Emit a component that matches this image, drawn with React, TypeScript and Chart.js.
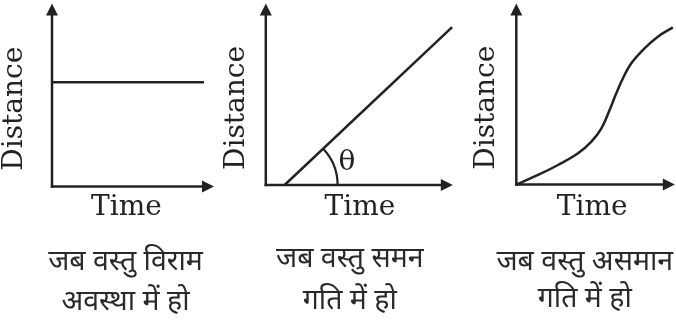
import React, { useEffect, useRef } from "react";
import { Chart, registerables } from "chart.js";

Chart.register(...registerables);

// ---- Text ----
const xAxisTitle = "Time";
const yAxisTitle = "Distance";
const angleLabel = "θ";
const restCaption = ["जब वस्तु विराम", "अवस्था में हो"];
const uniformCaption = ["जब वस्तु समन", "गति में हो"];
const nonUniformCaption = ["जब वस्तु असमान", "गति में हो"];

// ---- Data (arbitrary units) ----
const restTime = [0, 10.2];
const restDistance = [6.7, 6.7];

const uniformTime = [1.0, 9.9];
const uniformDistance = [0, 10.25];

const nonUniformTime = [0, 1.43, 2.75, 4.07, 4.95, 5.61, 6.15, 6.59, 7.03, 7.58, 8.45, 9.33, 10.32];
const nonUniformDistance = [0, 0.62, 1.27, 2.03, 2.79, 3.66, 4.85, 5.94, 6.92, 7.9, 8.87, 9.63, 10.24];

const INK = "#222222";
const SERIF = "'DejaVu Serif', serif";
const CAPTION_FONT = "'Noto Sans', 'Noto Sans Devanagari', sans-serif";

type PanelCfg = {
  left: number;
  width: number;
  xs: number[];
  ys: number[];
  caption: string[];
  captionX: number;
  captionY: number[];
  yTitleGap: number;
  xTitleGap: number;
  padRight: number;
  padTop: number;
  padBottom: number;
  tipX: number;
  tipY: number;
  smooth: boolean;
  showAngle: boolean;
};

const panels: PanelCfg[] = [
  {
    left: -2.5, width: 218, xs: restTime, ys: restDistance, caption: restCaption,
    captionX: 125, captionY: [262, 302], yTitleGap: 20.4, xTitleGap: 4.2,
    padRight: 15, padTop: 31, padBottom: 97.7, tipX: 213.5, tipY: 3.5, smooth: false, showAngle: false,
  },
  {
    left: 220.2, width: 239.8, xs: uniformTime, ys: uniformDistance, caption: uniformCaption,
    captionX: 350, captionY: [259, 301], yTitleGap: 12.2, xTitleGap: 5.7,
    padRight: 6, padTop: 31, padBottom: 97.7, tipX: 453, tipY: 3.5, smooth: false, showAngle: true,
  },
  {
    left: 470.2, width: 206.3, xs: nonUniformTime, ys: nonUniformDistance, caption: nonUniformCaption,
    captionX: 585, captionY: [262, 299], yTitleGap: 12.7, xTitleGap: 6.2,
    padRight: 8, padTop: 31, padBottom: 97.7, tipX: 675, tipY: 3.5, smooth: true, showAngle: false,
  },
];

const decorPlugin = {
  id: "decor",
  afterDatasetsDraw(chart: any, _args: any, opts: any) {
    const { ctx, chartArea, scales } = chart;
    const left = opts.pageLeft as number;
    const ax = chartArea.left;
    const ay = chartArea.bottom;
    const tipX = opts.tipX - left;
    const tipY = opts.tipY;
    const head = 12;
    const half = 6;
    ctx.save();
    ctx.strokeStyle = INK;
    ctx.fillStyle = INK;
    ctx.lineWidth = 2.5;
    ctx.lineCap = "butt";
    // y axis
    ctx.beginPath();
    ctx.moveTo(ax, ay + 1.25);
    ctx.lineTo(ax, tipY + head - 1);
    ctx.stroke();
    ctx.beginPath();
    ctx.moveTo(ax, tipY);
    ctx.lineTo(ax - half, tipY + head);
    ctx.lineTo(ax + half, tipY + head);
    ctx.closePath();
    ctx.fill();
    // x axis
    ctx.beginPath();
    ctx.moveTo(ax - 1.25, ay);
    ctx.lineTo(tipX - head + 1, ay);
    ctx.stroke();
    ctx.beginPath();
    ctx.moveTo(tipX, ay);
    ctx.lineTo(tipX - head, ay - half);
    ctx.lineTo(tipX - head, ay + half);
    ctx.closePath();
    ctx.fill();

    // angle arc
    if (opts.showAngle) {
      const ds = chart.data.datasets[0].data;
      const x0 = scales.x.getPixelForValue(ds[0].x);
      const y0 = scales.y.getPixelForValue(ds[0].y);
      const x1 = scales.x.getPixelForValue(ds[1].x);
      const y1 = scales.y.getPixelForValue(ds[1].y);
      const ang = Math.atan2(y1 - y0, x1 - x0);
      const r = 53;
      ctx.lineWidth = 2.2;
      ctx.beginPath();
      ctx.arc(x0, y0, r, ang, 0);
      ctx.stroke();
      const mid = ang / 2;
      ctx.font = `28px ${SERIF}`;
      ctx.textAlign = "center";
      ctx.textBaseline = "middle";
      ctx.fillText(angleLabel, x0 + (r + 14) * Math.cos(mid), y0 + (r + 14) * Math.sin(mid) + 2);
    }

    // caption
    ctx.font = `normal 400 28.5px ${CAPTION_FONT}`;
    ctx.textAlign = "center";
    ctx.textBaseline = "middle";
    ctx.fillStyle = "#2a2a2a";
    const lines: string[] = opts.caption;
    lines.forEach((t, i) => ctx.fillText(t, opts.captionX - left, opts.captionY[i]));
    ctx.restore();
  },
};

function Panel({ cfg }: { cfg: PanelCfg }) {
  const ref = useRef<HTMLCanvasElement | null>(null);
  useEffect(() => {
    if (!ref.current) return;
    const titleFont = { family: SERIF, size: 28, lineHeight: 1.2 };
    const chart = new Chart(ref.current, {
      type: "line",
      data: {
        datasets: [
          {
            data: cfg.xs.map((x, i) => ({ x, y: cfg.ys[i] })),
            borderColor: INK,
            borderWidth: 2.5,
            pointRadius: 0,
            fill: false,
            clip: false as any,
            tension: cfg.smooth ? 0.4 : 0,
            cubicInterpolationMode: "default",
          },
        ],
      },
      options: {
        responsive: false,
        animation: false,
        devicePixelRatio: 1,
        events: [],
        layout: { padding: { left: 0, right: cfg.padRight, top: cfg.padTop, bottom: cfg.padBottom } },
        plugins: {
          legend: { display: false },
          tooltip: { enabled: false },
          title: { display: false },
          decor: {
            pageLeft: cfg.left,
            tipX: cfg.tipX,
            tipY: cfg.tipY,
            showAngle: cfg.showAngle,
            caption: cfg.caption,
            captionX: cfg.captionX,
            captionY: cfg.captionY,
          },
        } as any,
        scales: {
          x: {
            type: "linear",
            min: 0,
            max: 10,
            grid: { display: false, drawTicks: false, tickLength: 0 },
            border: { display: false },
            ticks: { display: false },
            title: {
              display: true,
              text: xAxisTitle,
              color: INK,
              font: titleFont,
              padding: { top: cfg.xTitleGap, bottom: 0 },
            },
          },
          y: {
            type: "linear",
            min: 0,
            max: 10,
            grid: { display: false, drawTicks: false, tickLength: 0 },
            border: { display: false },
            ticks: { display: false },
            title: {
              display: true,
              text: yAxisTitle,
              color: INK,
              font: titleFont,
              padding: { top: 0, bottom: cfg.yTitleGap },
            },
          },
        },
      },
      plugins: [decorPlugin],
    });
    return () => chart.destroy();
  }, [cfg]);
  return (
    <canvas
      ref={ref}
      width={Math.round(cfg.width)}
      height={322}
      style={{ position: "absolute", left: cfg.left, top: 0, width: Math.round(cfg.width), height: 322 }}
    />
  );
}

export default function App() {
  return (
    <div style={{ position: "fixed", left: 0, top: 0, width: 676, height: 322, background: "#ffffff", overflow: "hidden" }}>
      {panels.map((p, i) => (
        <Panel key={i} cfg={p} />
      ))}
    </div>
  );
}
